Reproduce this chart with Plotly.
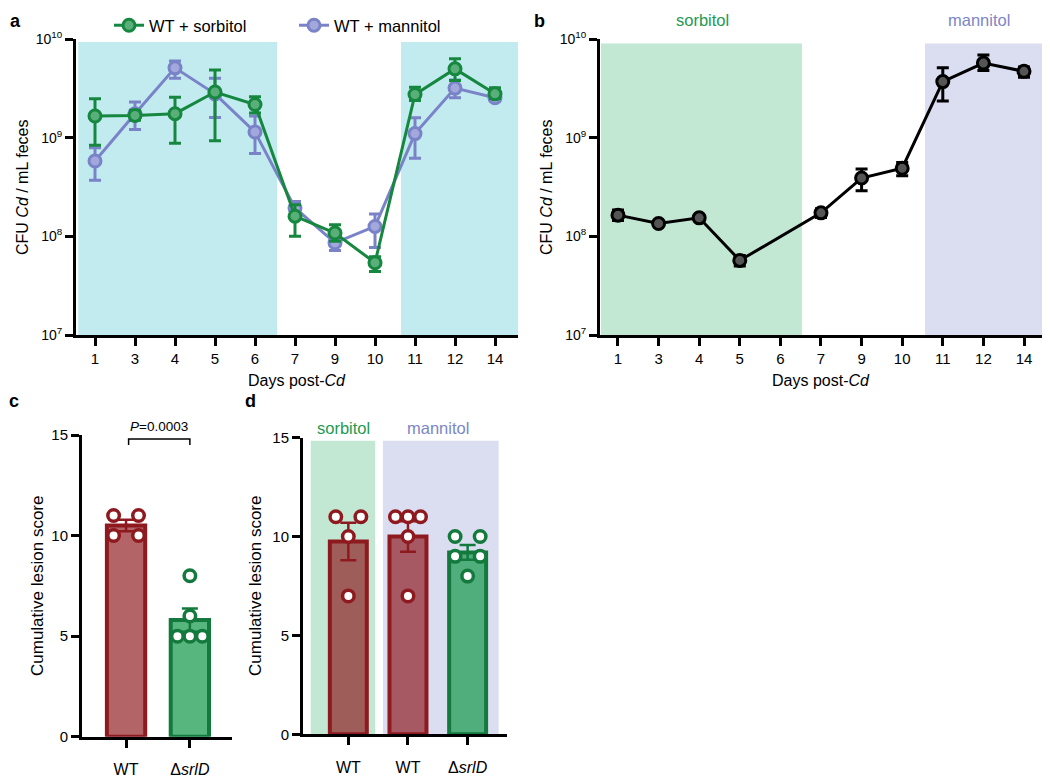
import plotly.graph_objects as go

W, H = 1050, 776

# ---------------- data ----------------
days = ["1", "3", "4", "5", "6", "7", "9", "10", "11", "12", "14"]

sorb_mean = [1.66e9, 1.68e9, 1.75e9, 2.9e9, 2.17e9, 1.6e8, 1.08e8, 5.4e7, 2.74e9, 4.98e9, 2.78e9]
sorb_hi = [2.48e9, 1.9e9, 2.57e9, 4.86e9, 2.6e9, 2.09e8, 1.31e8, 6.2e7, 3.25e9, 6.3e9, 3.2e9]
sorb_lo = [8.4e8, 1.5e9, 8.8e8, 9.3e8, 1.78e9, 1.0e8, 8.9e7, 4.4e7, 2.38e9, 3.8e9, 2.5e9]

mann_mean = [5.8e8, 1.75e9, 5.1e9, 2.78e9, 1.14e9, 1.94e8, 8.6e7, 1.26e8, 1.1e9, 3.18e9, 2.54e9]
mann_hi = [7.9e8, 2.3e9, 6.0e9, 4.0e9, 1.66e9, 2.25e8, 9.6e7, 1.68e8, 1.59e9, 3.85e9, 2.75e9]
mann_lo = [3.7e8, 1.21e9, 4.0e9, 1.6e9, 6.9e8, 1.65e8, 7.2e7, 7.7e7, 6.2e8, 2.54e9, 2.35e9]

b_mean = [1.64e8, 1.35e8, 1.54e8, 5.7e7, None, 1.73e8, 3.9e8, 4.9e8, 3.7e9, 5.7e9, 4.7e9]
b_hi = [1.85e8, 1.42e8, 1.62e8, 6.4e7, None, 1.9e8, 4.8e8, 5.6e8, 5.1e9, 6.9e9, 5.2e9]
b_lo = [1.45e8, 1.28e8, 1.46e8, 5.0e7, None, 1.55e8, 2.9e8, 4.1e8, 2.35e9, 4.8e9, 4.1e9]

c_groups = ["WT", "Δ<i>srlD</i>"]
c_mean = [10.5, 5.8]
c_sem = [0.29, 0.58]
c_points = [[11, 11, 10, 10], [8, 6, 5, 5, 5]]

d_groups = ["WT", "WT", "Δ<i>srlD</i>"]
d_mean = [9.75, 10.0, 9.2]
d_sem = [0.95, 0.77, 0.37]
d_points = [[11, 11, 10, 7], [11, 11, 11, 10, 7], [10, 10, 9, 9, 8]]

ytick_vals = [1e7, 1e8, 1e9, 1e10]
ytick_text = ["10<sup>7</sup>", "10<sup>8</sup>", "10<sup>9</sup>", "10<sup>10</sup>"]

# ---------------- styles ----------------
FONT = "Liberation Sans, Arial, sans-serif"
GREEN = "#16873f"
GREEN_FILL = "#5aae7a"
PURPLE = "#7a83c8"
PURPLE_FILL = "#a3a8dc"
RED = "#8e1a1f"
DGREEN = "#13793c"
RED_BAR = "rgba(142,26,31,0.68)"
GREEN_BAR = "rgba(40,160,90,0.78)"
CYAN_SHADE = "#c2ebf0"
SORB_SHADE = "#c2e8d3"
MANN_SHADE = "#dadef0"
SORB_TXT = "#1e9a50"
MANN_TXT = "#7b86c8"

OFF = 8  # page body margin


def px_x(p):
    return (p - OFF) / W


def px_y(p):
    return 1 - (p - OFF) / H


fig = go.Figure()

xidx = list(range(len(days)))


def errs(mean, hi, lo):
    plus = [None if m is None else h - m for m, h in zip(mean, hi)]
    minus = [None if m is None else m - l for m, l in zip(mean, lo)]
    return plus, minus


# panel a
for name, mean, hi, lo, col, fill, rank in [
    ("WT + mannitol", mann_mean, mann_hi, mann_lo, PURPLE, PURPLE_FILL, 2),
    ("WT + sorbitol", sorb_mean, sorb_hi, sorb_lo, GREEN, GREEN_FILL, 1),
]:
    p, m = errs(mean, hi, lo)
    fig.add_trace(go.Scatter(
        x=xidx, y=mean, name=name, legendrank=rank, mode="lines+markers",
        line=dict(color=col, width=3),
        marker=dict(symbol="circle", size=12, color=fill, line=dict(color=col, width=3)),
        error_y=dict(type="data", array=p, arrayminus=m, color=col, thickness=3, width=6, symmetric=False),
        xaxis="x", yaxis="y",
    ))

# panel b
p, m = errs(b_mean, b_hi, b_lo)
fig.add_trace(go.Scatter(
    x=xidx, y=b_mean, mode="lines+markers", connectgaps=True, showlegend=False,
    line=dict(color="black", width=3),
    marker=dict(symbol="circle", size=12, color="#555555", line=dict(color="black", width=3)),
    error_y=dict(type="data", array=p, arrayminus=m, color="black", thickness=3, width=6, symmetric=False),
    xaxis="x2", yaxis="y2",
))


def jitter(vals, unit_px, half_px=12.5):
    # spread equal values horizontally (beeswarm-like layout)
    offs = [0.0] * len(vals)
    groups = {}
    for i, v in enumerate(vals):
        groups.setdefault(v, []).append(i)
    for v, idxs in groups.items():
        n = len(idxs)
        for k, i in enumerate(idxs):
            offs[i] = 0.0 if n == 1 else (-half_px + 2 * half_px * k / (n - 1)) / unit_px
    return offs


# panel c
c_cols = [(RED, RED_BAR), (DGREEN, GREEN_BAR)]
for i, (g, mn, se) in enumerate(zip(c_groups, c_mean, c_sem)):
    lc, fc = c_cols[i]
    fig.add_trace(go.Bar(
        x=[i], y=[mn], width=0.6, showlegend=False,
        marker=dict(color=fc, line=dict(color=lc, width=4)),
        error_y=dict(type="data", array=[se], color=lc, thickness=2.5, width=8),
        xaxis="x3", yaxis="y3",
    ))
for i, pts in enumerate(c_points):
    lc = c_cols[i][0]
    offs = jitter(pts, 64)
    fig.add_trace(go.Scatter(
        x=[i + o for o in offs], y=pts, mode="markers", showlegend=False,
        marker=dict(symbol="circle", size=11.5, color="white", line=dict(color=lc, width=3.5)),
        xaxis="x3", yaxis="y3",
    ))

# panel d
d_cols = [(RED, RED_BAR), (RED, RED_BAR), (DGREEN, GREEN_BAR)]
for i, (g, mn, se) in enumerate(zip(d_groups, d_mean, d_sem)):
    lc, fc = d_cols[i]
    fig.add_trace(go.Bar(
        x=[i], y=[mn], width=0.62, showlegend=False,
        marker=dict(color=fc, line=dict(color=lc, width=4)),
        error_y=dict(type="data", array=[se], color=lc, thickness=2.5, width=8),
        xaxis="x4", yaxis="y4",
    ))
for i, pts in enumerate(d_points):
    lc = d_cols[i][0]
    offs = jitter(pts, 59.5)
    fig.add_trace(go.Scatter(
        x=[i + o for o in offs], y=pts, mode="markers", showlegend=False,
        marker=dict(symbol="circle", size=11.5, color="white", line=dict(color=lc, width=3.5)),
        xaxis="x4", yaxis="y4",
    ))

axis_common = dict(showline=True, linewidth=3, linecolor="black", ticks="outside", ticklen=8,
                   tickwidth=3, tickcolor="black", showgrid=False, zeroline=False,
                   tickfont=dict(family=FONT, size=15, color="black"))

fig.update_layout(
    width=W, height=H, margin=dict(l=0, r=0, t=0, b=0, autoexpand=False),
    paper_bgcolor="white", plot_bgcolor="rgba(0,0,0,0)",
    font=dict(family=FONT, color="black"),
    barmode="overlay",
    showlegend=True,
    legend=dict(orientation="h", x=px_x(109), y=px_y(8), xanchor="left", yanchor="top",
                font=dict(family=FONT, size=16.5), entrywidth=140, entrywidthmode="pixels",
                bgcolor="rgba(0,0,0,0)", borderwidth=0),
    xaxis=dict(axis_common, domain=[px_x(76), px_x(518)], range=[-0.475, 10.575],
               tickvals=xidx, ticktext=days, anchor="y"),
    yaxis=dict(axis_common, domain=[px_y(335), px_y(39)], type="log", range=[7, 10],
               tickvals=ytick_vals, ticktext=ytick_text, anchor="x",
               tickfont=dict(family=FONT, size=14, color="black")),
    xaxis2=dict(axis_common, domain=[px_x(600), px_x(1043)], range=[-0.443, 10.468],
                tickvals=xidx, ticktext=days, anchor="y2"),
    yaxis2=dict(axis_common, domain=[px_y(335), px_y(39)], type="log", range=[7, 10],
                tickvals=ytick_vals, ticktext=ytick_text, anchor="x2",
                tickfont=dict(family=FONT, size=14, color="black")),
    xaxis3=dict(axis_common, domain=[px_x(82), px_x(232)], range=[-0.69, 1.66],
                tickvals=[0, 1], ticktext=c_groups, anchor="y3", ticklabelstandoff=8,
                tickfont=dict(family=FONT, size=16, color="black")),
    yaxis3=dict(axis_common, domain=[px_y(736.7), px_y(435)], range=[0, 15],
                tickvals=[0, 5, 10, 15], anchor="x3"),
    xaxis4=dict(axis_common, domain=[px_x(303), px_x(507)], range=[-0.76, 2.66],
                tickvals=[0, 1, 2], ticktext=d_groups, anchor="y4", ticklabelstandoff=8,
                tickfont=dict(family=FONT, size=16, color="black")),
    yaxis4=dict(axis_common, domain=[px_y(734.3), px_y(437.7)], range=[0, 15],
                tickvals=[0, 5, 10, 15], anchor="x4"),
)

shapes = [
    dict(type="rect", xref="x", yref="y domain", x0=-0.42, x1=4.555, y0=0, y1=0.99,
         fillcolor=CYAN_SHADE, line=dict(width=0), layer="below"),
    dict(type="rect", xref="x", yref="y domain", x0=7.65, x1=10.575, y0=0, y1=0.99,
         fillcolor=CYAN_SHADE, line=dict(width=0), layer="below"),
    dict(type="rect", xref="x2", yref="y2 domain", x0=-0.42, x1=4.53, y0=0, y1=0.985,
         fillcolor=SORB_SHADE, line=dict(width=0), layer="below"),
    dict(type="rect", xref="x2", yref="y2 domain", x0=7.56, x1=10.468, y0=0, y1=0.985,
         fillcolor=MANN_SHADE, line=dict(width=0), layer="below"),
    dict(type="rect", xref="x4", yref="y4", x0=-0.63, x1=0.45, y0=0, y1=14.85,
         fillcolor=SORB_SHADE, line=dict(width=0), layer="below"),
    dict(type="rect", xref="x4", yref="y4", x0=0.58, x1=2.52, y0=0, y1=14.85,
         fillcolor=MANN_SHADE, line=dict(width=0), layer="below"),
    # significance bracket in c
    dict(type="path", xref="x3", yref="y3", path="M 0.04,14.5 L 0.04,14.8 L 1.0,14.8 L 1.0,14.5",
         line=dict(color="black", width=1.5)),
]
fig.update_layout(shapes=shapes)

ann = []


def txt(x, y, text, size=15, color="black", angle=0, bold=False, xanchor="center", yanchor="middle"):
    if bold:
        text = "<b>" + text + "</b>"
    ann.append(dict(x=px_x(x), y=px_y(y), xref="paper", yref="paper", text=text, showarrow=False,
                    font=dict(family=FONT, size=size, color=color), textangle=angle,
                    xanchor=xanchor, yanchor=yanchor))


txt(15, 9, "a", 18, bold=True, yanchor="top")
txt(539, 9, "b", 18, bold=True, yanchor="top")
txt(14, 401, "c", 18, bold=True)
txt(250, 401, "d", 18, bold=True)

txt(22, 188, "CFU <i>Cd</i> / mL feces", 16, angle=-90)
txt(546, 188, "CFU <i>Cd</i> / mL feces", 16, angle=-90)
txt(297, 380, "Days post-<i>Cd</i>", 16)
txt(821, 380, "Days post-<i>Cd</i>", 16)
txt(37, 586, "Cumulative lesion score", 17, angle=-90)
txt(255, 586, "Cumulative lesion score", 17, angle=-90)

txt(702, 9, "sorbitol", 16.5, SORB_TXT, yanchor="top")
txt(979, 9, "mannitol", 16.5, MANN_TXT, yanchor="top")
txt(343, 428, "sorbitol", 16.5, SORB_TXT)
txt(438, 428, "mannitol", 16.5, MANN_TXT)
txt(159, 426, "<i>P</i>=0.0003", 13.5)

fig.update_layout(annotations=ann)

fig.write_html("out.html")
